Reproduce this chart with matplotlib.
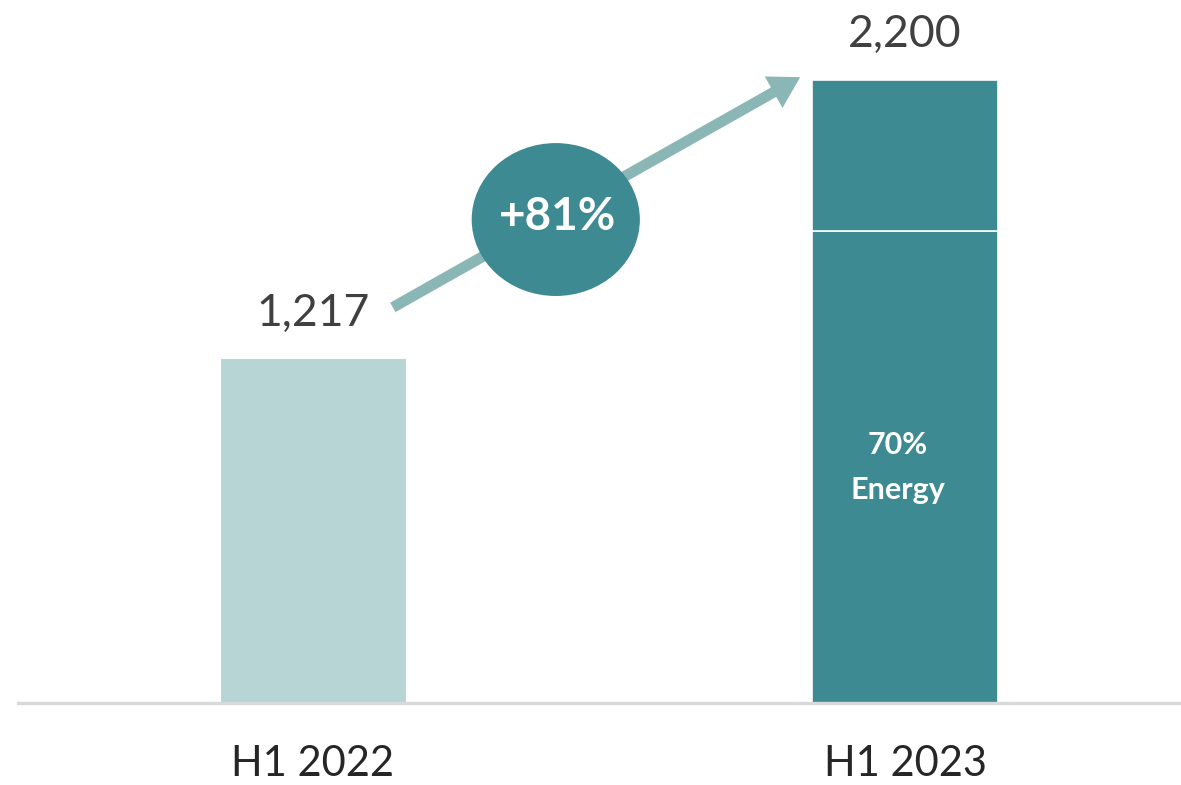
import matplotlib
matplotlib.use('Agg')
import matplotlib.pyplot as plt
from matplotlib.patches import Ellipse
import numpy as np

plt.rcParams['font.family'] = ['Lato', 'DejaVu Sans']

categories = ['H1 2022', 'H1 2023']
totals = [1217, 2200]
# H1 2023 split (lower = energy part)
energy_2023 = 1665
other_2023 = 535
energy_share_label = '70%\nEnergy'

light = '#B7D5D5'
dark = '#3D8A93'
arrow_col = '#8AB7B6'
text_col = '#404040'

fig = plt.figure(figsize=(11.81, 7.85), dpi=100)
ax = fig.add_axes([0.0152, 0.1045, 0.9848, 0.8955])

x = np.arange(len(categories))
width = 0.314

ax.bar(x[0], totals[0], width, color=light, edgecolor='white', linewidth=0.8, zorder=2)
ax.bar(x[1], energy_2023, width, color=dark, edgecolor='white', linewidth=1.2, zorder=2)
ax.bar(x[1], other_2023, width, bottom=energy_2023, color=dark,
       edgecolor='white', linewidth=1.2, zorder=2)

# value labels above bars
for xi, val in zip(x, totals):
    ax.annotate('{:,}'.format(val), xy=(xi, val), xytext=(0, 23.5),
                textcoords='offset points', ha='center', va='baseline',
                fontsize=32, color=text_col)

# energy label in the lower segment
ax.text(x[1] - 0.012, energy_2023 / 2, energy_share_label, ha='center', va='center',
        fontsize=22, fontweight='bold', color='white', linespacing=1.75, zorder=3)

# growth arrow
start = (x[0] + 0.135, totals[0] + 180)
end = (x[1] - 0.177, totals[1] + 10)
ax.annotate('', xy=end, xytext=start,
            arrowprops=dict(facecolor=arrow_col, edgecolor='none', width=7.8,
                            headwidth=26, headlength=22, shrink=0),
            zorder=3)

growth = (totals[1] / totals[0] - 1) * 100
t = 0.4
cx = start[0] + t * (end[0] - start[0])
cy = start[1] + t * (end[1] - start[1]) - 15
ax.add_patch(Ellipse((cx, cy), 0.284, 540, facecolor=dark, edgecolor='none', zorder=4))
ax.text(cx + 0.003, cy + 10, '+{:.0f}%'.format(growth), ha='center', va='center',
        fontsize=33, fontweight='bold', color='white', zorder=5)

ax.set_xlim(-0.498, 1.466)
ax.set_ylim(0, 2200 * 703 / 623)

for s in ['top', 'right', 'left']:
    ax.spines[s].set_visible(False)
ax.spines['bottom'].set_color('#D9D9D9')
ax.spines['bottom'].set_linewidth(2.4)
ax.set_yticks([])
ax.set_xticks(x)
ax.set_xticklabels(categories, va='baseline', fontsize=30, color='#262626')
ax.tick_params(axis='x', length=0, pad=52.5)

fig.savefig('out.png', dpi=100)
plt.close(fig)
